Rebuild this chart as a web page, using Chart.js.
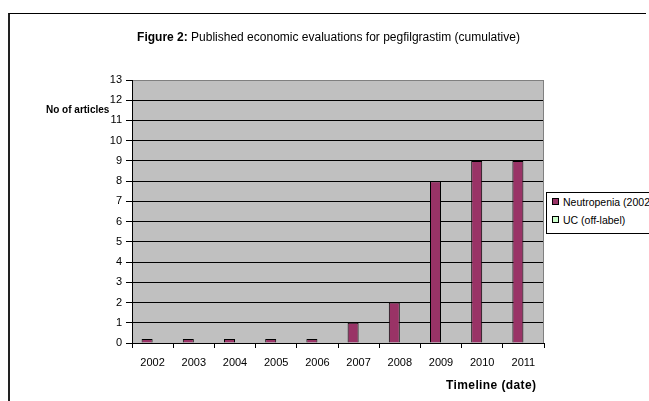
<!DOCTYPE html>
<html>
<head>
<meta charset="utf-8">
<script src="https://cdn.jsdelivr.net/npm/chart.js@4/dist/chart.umd.min.js"></script>
<style>
  html, body { margin: 0; padding: 0; background: #fff; }
  #wrap { position: relative; width: 649px; height: 401px; overflow: hidden;
          font-family: "Liberation Sans", Arial, sans-serif; color: #000; }
  #frame { position: absolute; left: 8px; top: 13px; width: 636px; height: 400px;
           border-left: 2px solid #222; border-top: 1px solid #000; }
  #chart { position: absolute; left: 0; top: 0; }
  #title { position: absolute; left: 136px; top: 30px; width: 385px; text-align: center;
           font-size: 12px; white-space: nowrap; }
  #ytitle { position: absolute; left: 46px; top: 104px; font-size: 10px; font-weight: bold; white-space: nowrap; }
  #xtitle { position: absolute; left: 446px; top: 378px; font-size: 12px; font-weight: bold;
            letter-spacing: 0.4px; white-space: nowrap; }
  #legend { position: absolute; left: 546px; top: 192px; width: 120px; height: 40px;
            border: 1px solid #000; background: #fff; font-size: 10.5px; }
  .item { position: absolute; left: 5px; white-space: nowrap; line-height: 12px; }
  .sw { display: inline-block; width: 5px; height: 5px; border: 1px solid #000;
        margin-right: 4px; vertical-align: 1px; }
</style>
</head>
<body>
<div id="wrap">
  <div id="frame"></div>
  <canvas id="chart" width="649" height="401"></canvas>
  <div id="title"><b>Figure 2:</b> Published economic evaluations for pegfilgrastim (cumulative)</div>
  <div id="ytitle">No of articles</div>
  <div id="xtitle">Timeline (date)</div>
  <div id="legend">
    <div class="item" style="top:3px"><span class="sw" style="background:#993366"></span>Neutropenia (2002</div>
    <div class="item" style="top:21px"><span class="sw" style="background:#CCFFCC"></span>UC (off-label)</div>
  </div>
</div>
<script>
// data
var years = ['2002', '2003', '2004', '2005', '2006', '2007', '2008', '2009', '2010', '2011']
var neutropenia = [0.2, 0.2, 0.2, 0.2, 0.2, 1, 2, 8, 9, 9]
var ucOffLabel = [null, null, null, null, null, null, null, null, null, null]
var yMax = 13

// grey plot area + grey right edge, like the old excel look
var plotBg = {
  id: 'plotBg',
  beforeDraw: function(chart) {
    var a = chart.chartArea, c = chart.ctx
    c.save()
    c.fillStyle = '#C0C0C0'
    c.fillRect(a.left, a.top, a.right - a.left, a.bottom - a.top)
    c.restore()
  },
  beforeDatasetsDraw: function(chart) {
    var a = chart.chartArea, c = chart.ctx
    c.save()
    c.strokeStyle = '#808080'
    c.lineWidth = 1
    c.beginPath()
    c.moveTo(Math.round(a.right) - 0.5, a.top)
    c.lineTo(Math.round(a.right) - 0.5, a.bottom)
    c.stroke()
    c.restore()
  }
}

var myChart = new Chart(document.getElementById('chart'), {
  type: 'bar',
  data: {
    labels: years,
    datasets: [{
        label: 'Neutropenia (2002',
        data: neutropenia,
        backgroundColor: '#993366',
        borderColor: '#000',
        borderWidth: 1,
        categoryPercentage: 0.534,
        barPercentage: 1
      }, {
        label: 'UC (off-label)',
        data: ucOffLabel,
        backgroundColor: '#CCFFCC',
        borderColor: '#000',
        borderWidth: 1,
        categoryPercentage: 0.534,
        barPercentage: 1
      }
    ]
  },
  options: {
    responsive: false,
    animation: false,
    layout: { padding: { left: 102, top: 80, right: 105, bottom: 33 } },
    plugins: { legend: { display: false }, title: { display: false }, tooltip: { enabled: false } },
    scales: {
      x: {
        afterFit: function(s) { s.height = 25 },
        grid: { drawOnChartArea: false, drawTicks: true, tickLength: 5, color: '#000' },
        border: { display: true, color: '#000' },
        ticks: { color: '#000', padding: 8, maxRotation: 0,
                 font: { family: '"Liberation Sans", Arial', size: 11 } }
      },
      y: {
        min: 0,
        max: yMax,
        afterFit: function(s) { s.width = 30 },
        grid: {
          color: function(ctx) { return ctx.tick && ctx.tick.value === yMax ? '#808080' : '#000' },
          tickColor: '#000',
          tickLength: 6
        },
        border: { display: true, color: '#000' },
        ticks: { stepSize: 1, color: '#000', padding: 4,
                 font: { family: '"Liberation Sans", Arial', size: 11 } }
      }
    }
  },
  plugins: [plotBg]
})
</script>
</body>
</html>
